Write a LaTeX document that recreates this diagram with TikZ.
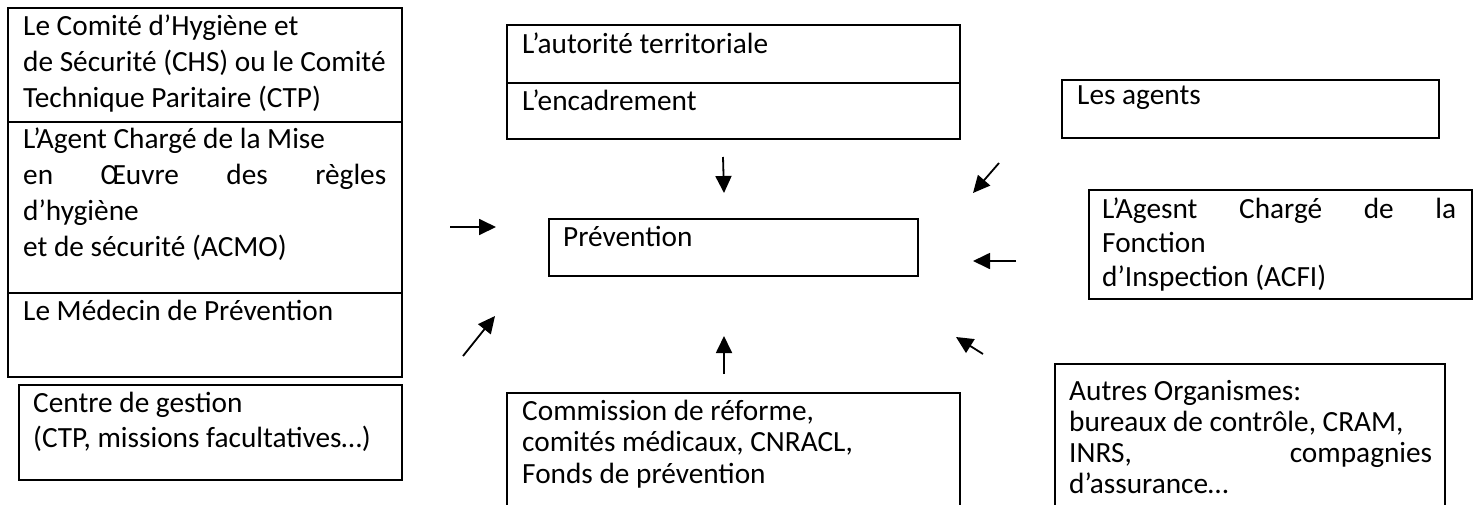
\documentclass[tikz,border=0pt]{standalone}
\usepackage{fontspec}
\setmainfont{Carlito}
\usetikzlibrary{arrows.meta}
\begin{document}
\begin{tikzpicture}[x=1pt,y=-1pt,
  cell/.style={draw, line width=2pt, inner sep=0pt, anchor=north west},
  txt/.style={anchor=base west, inner sep=0pt},
  arr/.style={line width=1.8pt, -{Triangle[length=17pt,width=16pt]}}]
\useasboundingbox (0,0) rectangle (1477,504);
\clip (0,0) rectangle (1477,504);
% boxes
\node[cell, minimum width=394pt, minimum height=114pt] (chs) at (7,7) {};
\node[cell, minimum width=394pt, minimum height=171pt] (acmo) at (7,121) {};
\node[cell, minimum width=394pt, minimum height=84pt] (medecin) at (7,292) {};
\node[cell, minimum width=383pt, minimum height=95pt] (centre) at (18,384) {};
\node[cell, minimum width=453pt, minimum height=58pt] (autorite) at (506,24) {};
\node[cell, minimum width=453pt, minimum height=56pt] (encadr) at (506,82) {};
\node[cell, minimum width=369pt, minimum height=57pt] (prev) at (548,218) {};
\node[cell, minimum width=377pt, minimum height=58pt] (agents) at (1061,79) {};
\node[cell, minimum width=383pt, minimum height=109pt] (acfi) at (1088,189) {};
\node[cell, minimum width=453pt, minimum height=130pt] (commission) at (506,392) {};
\node[cell, minimum width=390pt, minimum height=160pt] (autres) at (1054,363) {};
% texts (anchor = baseline of the first line)
\node[txt, text width=420pt, font=\fontsize{29.3}{36}\selectfont] (tchs) at (23,35)
  {\spaceskip=0pt Le Comité d’Hygiène et\\de Sécurité (CHS) ou le Comité\\Technique Paritaire (CTP)};
\node[txt, text width=420pt, font=\fontsize{29.3}{36.3}\selectfont] (tacmo) at (23,148)
  {\spaceskip=0pt L’Agent Chargé de la Mise\\\makebox[363pt][s]{en Œuvre des règles}\\d’hygiène\\et de sécurité (ACMO)};
\node[txt, font=\fontsize{29.3}{36}\selectfont] (tmedecin) at (23,320) {Le Médecin de Prévention};
\node[txt, text width=420pt, font=\fontsize{29.3}{35}\selectfont] (tcentre) at (33,412)
  {\spaceskip=0pt Centre de gestion\\(CTP, missions facultatives…)};
\node[txt, font=\fontsize{29.3}{31}\selectfont] (tautorite) at (522,53) {L’autorité territoriale};
\node[txt, font=\fontsize{29.3}{31}\selectfont] (tencadr) at (522,110) {L’encadrement};
\node[txt, font=\fontsize{29.3}{31}\selectfont] (tprev) at (563,246) {Prévention};
\node[txt, font=\fontsize{29.3}{31}\selectfont] (tagents) at (1077,104) {Les agents};
\node[txt, text width=420pt, font=\fontsize{29.3}{34}\selectfont] (tacfi) at (1102,218)
  {\spaceskip=0pt \makebox[354pt][s]{L’Agesnt Chargé de la}\\Fonction\\d’Inspection (ACFI)};
\node[txt, text width=420pt, font=\fontsize{29.3}{31.5}\selectfont] (tcommission) at (522,420)
  {\spaceskip=0pt Commission de réforme,\\comités médicaux, CNRACL,\\Fonds de prévention};
\node[txt, text width=420pt, font=\fontsize{29.3}{31}\selectfont] (tautres) at (1069,400)
  {\spaceskip=0pt Autres Organismes:\\bureaux de contrôle, CRAM,\\\makebox[363pt][s]{INRS, compagnies}\\d’assurance…};
% arrows
\coordinate (a1s) at (723,157); \coordinate (a1e) at (724,193);
\coordinate (a2s) at (724,374); \coordinate (a2e) at (724,336);
\coordinate (a3s) at (450,227); \coordinate (a3e) at (496,227);
\coordinate (a4s) at (463,356); \coordinate (a4e) at (495,316);
\coordinate (a5s) at (999,163); \coordinate (a5e) at (973,193);
\coordinate (a6s) at (1016,261); \coordinate (a6e) at (973,261);
\coordinate (a7s) at (983,354); \coordinate (a7e) at (956,337);
\draw[arr] (a1s) -- (a1e);
\draw[arr] (a2s) -- (a2e);
\draw[arr] (a3s) -- (a3e);
\draw[arr] (a4s) -- (a4e);
\draw[arr] (a5s) -- (a5e);
\draw[arr] (a6s) -- (a6e);
\draw[arr] (a7s) -- (a7e);
\end{tikzpicture}
\end{document}
